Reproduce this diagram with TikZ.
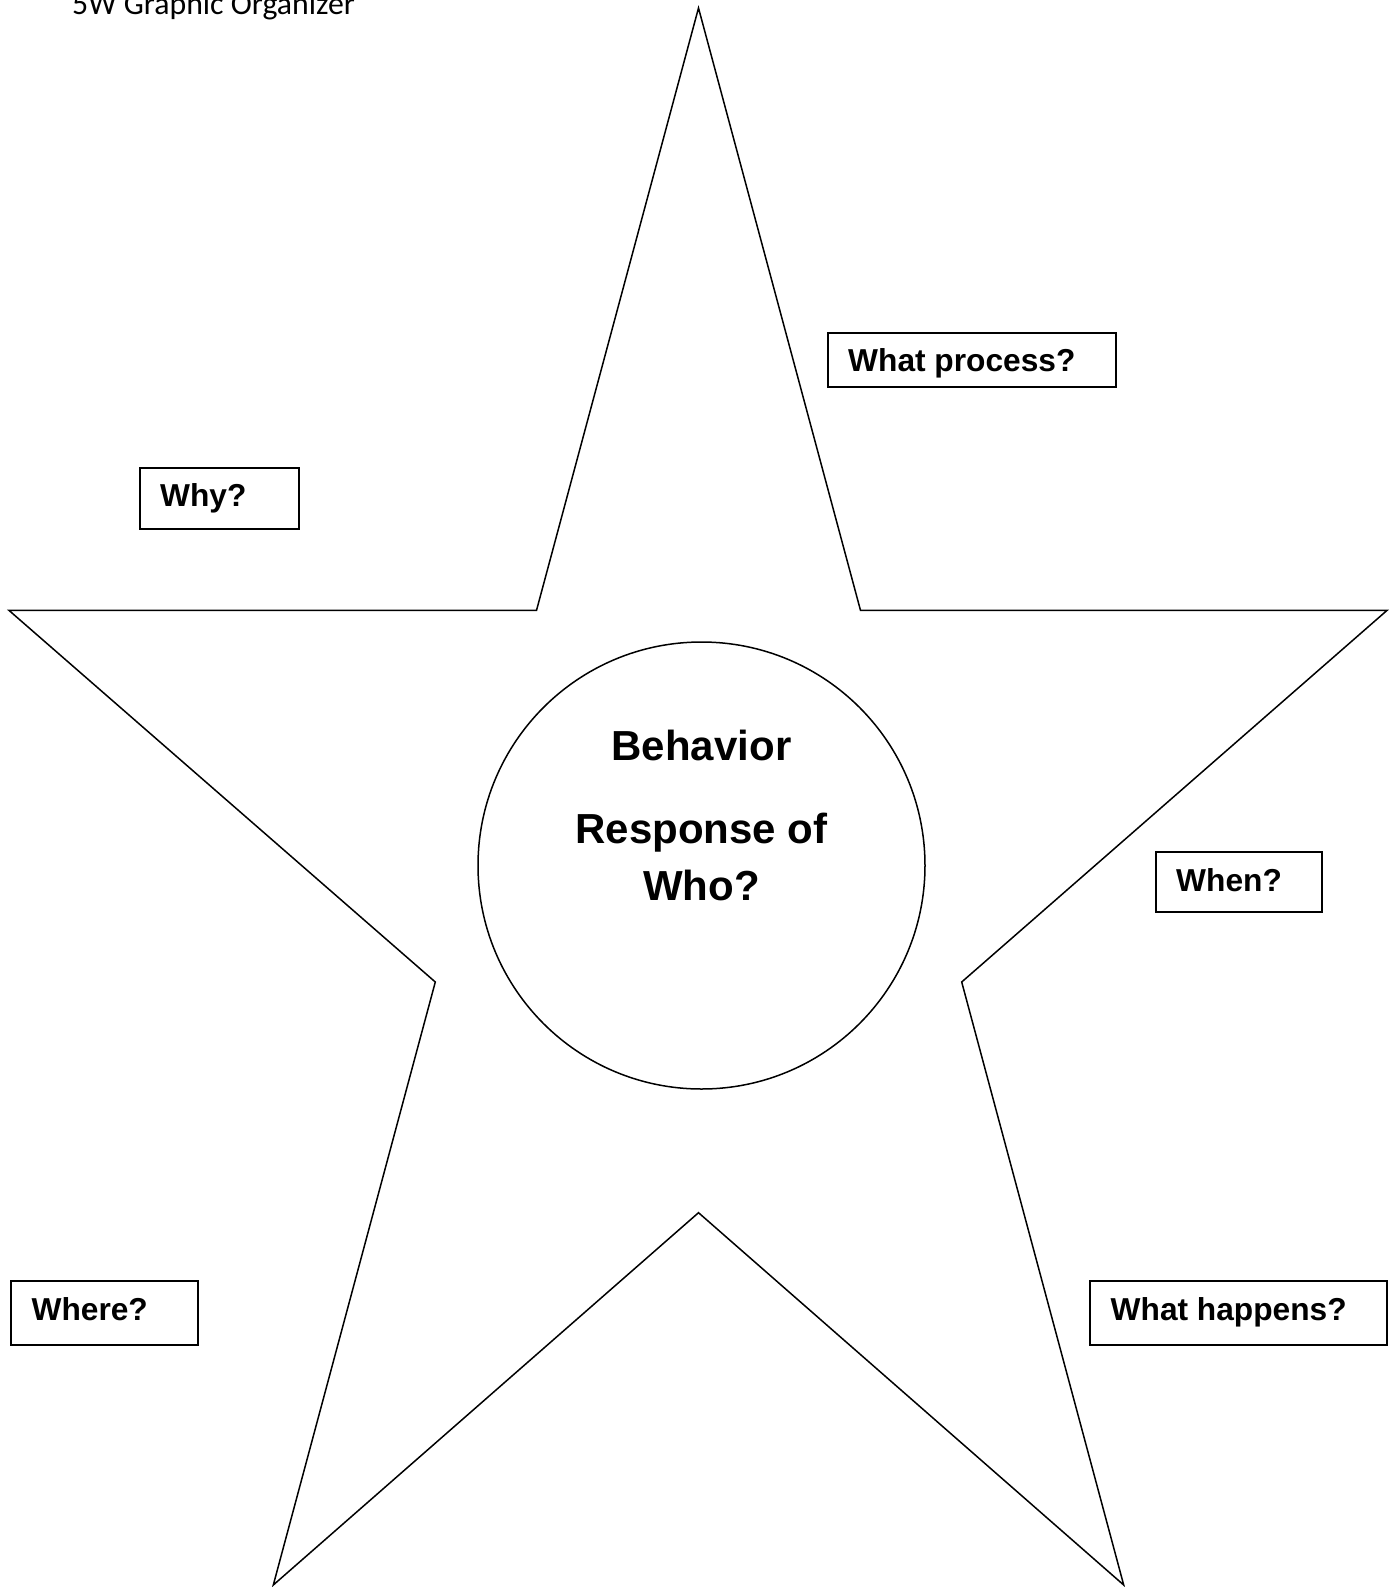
\documentclass[tikz,border=0pt]{standalone}
\usepackage{fontspec}
\setmainfont{Liberation Sans}
\newfontfamily\titlefont{Carlito}
\begin{document}
\begin{tikzpicture}[x=1pt,y=-1pt,
  outline/.style={draw=black,line width=1.5pt},
  qbox/.style={draw=black,line width=2pt,anchor=north west,inner sep=0pt},
  qlabel/.style={anchor=base west,inner sep=0pt,font=\fontsize{31.7}{36}\selectfont\bfseries},
  clabel/.style={anchor=base,inner sep=0pt,font=\fontsize{42}{48}\selectfont\bfseries}]
\useasboundingbox (0,0) rectangle (1395,1587);
\clip (0,0) rectangle (1395,1587);
\fill[white] (0,0) rectangle (1395,1587);
% title
\node[anchor=base west,inner sep=0pt,font=\titlefont\fontsize{31.8}{36}\selectfont] (title) at (72,15) {5W Graphic Organizer};
% star
\coordinate (t) at (698.5,8);
\coordinate (iur) at (860.5,610.4);
\coordinate (r) at (1387,610.4);
\coordinate (imr) at (961.7,982);
\coordinate (br) at (1123.7,1585);
\coordinate (ib) at (698.5,1212.7);
\coordinate (bl) at (273.3,1585);
\coordinate (iml) at (435.3,982);
\coordinate (l) at (9,610.4);
\coordinate (iul) at (536.5,610.4);
\draw[outline,line join=miter] (t) -- (iur) -- (r) -- (imr) -- (br) -- (ib) -- (bl) -- (iml) -- (l) -- (iul) -- cycle;
% center circle
\node[outline,circle,minimum size=447pt,inner sep=0pt] (center) at (701.5,865.5) {};
\node[clabel] (beh) at (701.5,760) {Behavior};
\node[clabel] (resp) at (701.5,843) {Response of};
\node[clabel] (who) at (701.5,900) {Who?};
% boxes
\node[qbox,minimum width=287.6pt,minimum height=53.7pt] (bproc) at (827,332) {};
\node[qlabel] (lproc) at (848,371.5) {What process?};
\node[qbox,minimum width=158.9pt,minimum height=61.7pt] (bwhy) at (138.7,466.7) {};
\node[qlabel] (lwhy) at (160,506) {Why?};
\node[qbox,minimum width=166pt,minimum height=59.7pt] (bwhen) at (1155,851.3) {};
\node[qlabel] (lwhen) at (1176,891) {When?};
\node[qbox,minimum width=187.4pt,minimum height=64.8pt] (bwhere) at (10,1279.5) {};
\node[qlabel] (lwhere) at (31.4,1320) {Where?};
\node[qbox,minimum width=297pt,minimum height=64.8pt] (bhap) at (1089,1279.5) {};
\node[qlabel] (lhap) at (1110.5,1320) {What happens?};
\end{tikzpicture}
\end{document}
